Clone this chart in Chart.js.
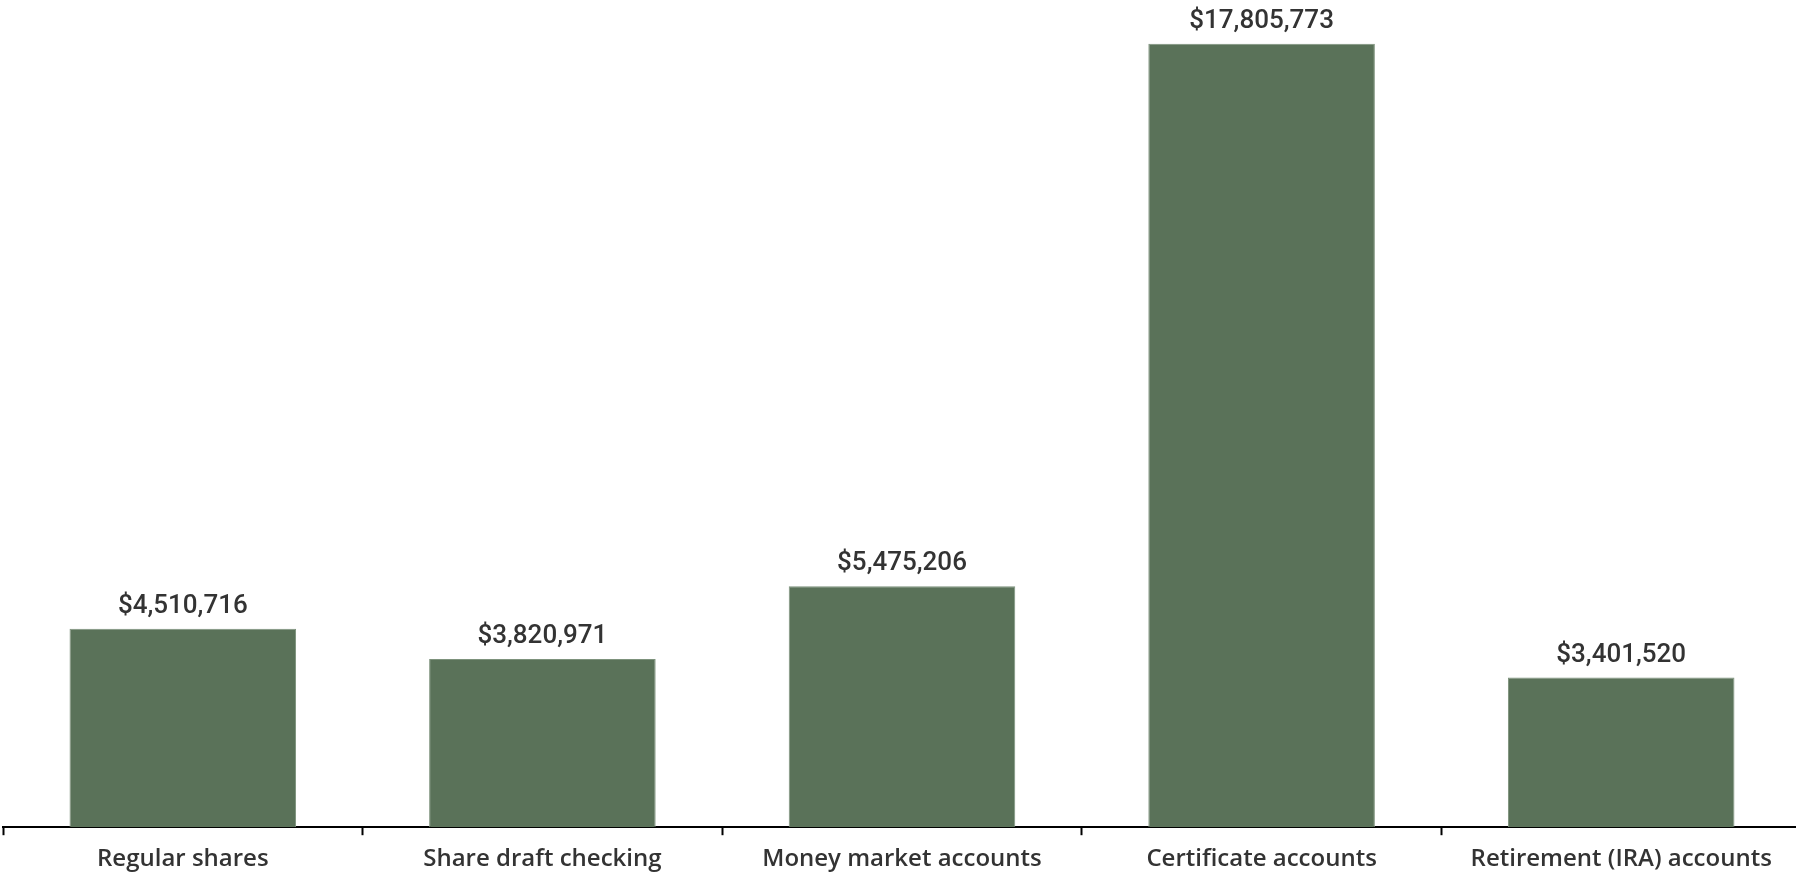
<!DOCTYPE html>
<html>
<head>
<meta charset="utf-8">
<script src="https://cdn.jsdelivr.net/npm/chart.js@4"></script>
<style>
  html, body { margin: 0; padding: 0; background: #fff; overflow: hidden; }
  #wrap { width: 1796px; height: 874px; overflow: hidden; }
</style>
</head>
<body>
<div id="wrap"><canvas id="chart" width="1801" height="874"></canvas></div>
<script>
// Share balances by account type
const categories = ['Regular shares', 'Share draft checking', 'Money market accounts', 'Certificate accounts', 'Retirement (IRA) accounts'];
const balances = [4510716, 3820971, 5475206, 17805773, 3401520];

const barColor = '#5a7259';

// Draw the dollar amount above each bar
const valueLabels = {
  id: 'valueLabels',
  afterDatasetsDraw(chart) {
    const { ctx } = chart;
    const meta = chart.getDatasetMeta(0);
    ctx.save();
    ctx.font = '500 26px Roboto, sans-serif';
    ctx.fillStyle = '#333333';
    ctx.textAlign = 'center';
    ctx.textBaseline = 'alphabetic';
    meta.data.forEach((bar, i) => {
      const text = '$' + balances[i].toLocaleString('en-US');
      ctx.fillText(text, bar.x, bar.y - 16);
    });
    ctx.restore();
  }
};

new Chart(document.getElementById('chart'), {
  type: 'bar',
  data: {
    labels: categories,
    datasets: [{
      data: balances,
      backgroundColor: barColor,
      borderColor: '#7d927c',
      borderWidth: 1,
      categoryPercentage: 0.63,
      barPercentage: 1
    }]
  },
  options: {
    responsive: false,
    animation: false,
    layout: { padding: { left: 3, right: 0, top: 0, bottom: -10 } },
    plugins: {
      legend: { display: false },
      tooltip: { enabled: false }
    },
    scales: {
      x: {
        grid: {
          offset: true,
          drawOnChartArea: false,
          drawTicks: true,
          tickLength: 8,
          tickWidth: 2,
          color: '#000'
        },
        border: { display: true, color: '#000', width: 2 },
        ticks: {
          color: '#333333',
          padding: 10,
          font: { family: 'Open Sans', size: 24, weight: '600' }
        }
      },
      y: {
        display: false,
        min: 0,
        max: 18800000
      }
    }
  },
  plugins: [valueLabels]
});
</script>
</body>
</html>
